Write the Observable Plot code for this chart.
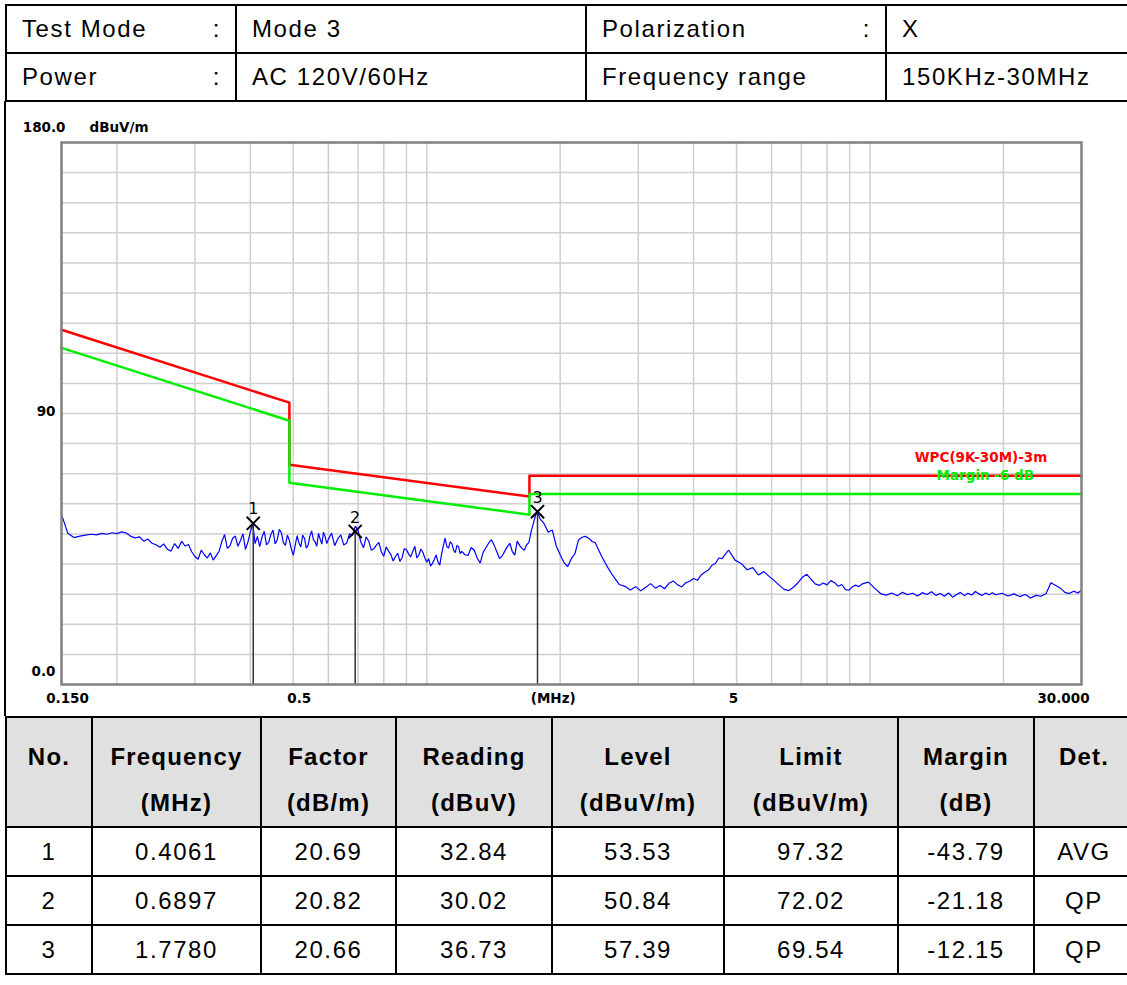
<!DOCTYPE html>
<html><head><meta charset="utf-8">
<script src="https://cdn.jsdelivr.net/npm/d3@7"></script>
<script src="https://cdn.jsdelivr.net/npm/@observablehq/plot@0.6"></script>
<style>
html,body{margin:0;padding:0;background:#fff;width:1127px;height:985px;overflow:hidden;}
#page{position:relative;width:1127px;height:985px;font-family:"Liberation Sans",Arial,sans-serif;color:#000;overflow:hidden;}
table{border-collapse:collapse;table-layout:fixed;position:absolute;left:5px;}
td{border:2px solid #000;padding:0;font-size:24px;letter-spacing:1.6px;white-space:nowrap;overflow:hidden;}
#info{top:4px;}
#info td{height:46px;vertical-align:middle;padding-left:15px;}
#info td .row{display:flex;justify-content:space-between;padding-right:14px;}
#results{top:716px;}
#results td{text-align:center;vertical-align:middle;}
#results tr.head td{background:#e0e0e0;font-weight:bold;letter-spacing:1.2px;height:108px;vertical-align:top;line-height:46px;padding-top:16px;box-sizing:border-box;}
#results tr.data td{height:47px;}
#chartbox{position:absolute;left:0;top:101px;width:1127px;height:615px;}
#chartbox svg{position:absolute;left:0;top:0;}
#leftline{position:absolute;left:4px;top:101px;width:2px;height:615px;background:#000;}
</style></head>
<body><div id="page">
<table id="info"></table>
<div id="chartbox"></div>
<div id="leftline"></div>
<table id="results"></table>
</div>
<script>
// ---- header info ----
const infoLabels = ["Test Mode", "Power"];
const infoValues = ["Mode 3", "AC 120V/60Hz"];
const infoLabels2 = ["Polarization", "Frequency range"];
const infoColons2 = [":", ""];
const infoValues2 = ["X", "150KHz-30MHz"];

// ---- result table ----
const headTop = ["No.", "Frequency", "Factor", "Reading", "Level", "Limit", "Margin", "Det."];
const headBottom = ["", "(MHz)", "(dB/m)", "(dBuV)", "(dBuV/m)", "(dBuV/m)", "(dB)", ""];
const colWidths = [86, 169, 135, 156, 172, 174, 136, 100];
const markerNo = [1, 2, 3];
const markerFreqText = ["0.4061", "0.6897", "1.7780"];
const markerFreq = [0.4061, 0.6897, 1.7780];
const markerFactor = ["20.69", "20.82", "20.66"];
const markerReading = ["32.84", "30.02", "36.73"];
const markerLevel = [53.53, 50.84, 57.39];
const markerLimit = ["97.32", "72.02", "69.54"];
const markerMargin = ["-43.79", "-21.18", "-12.15"];
const markerDet = ["AVG", "QP", "QP"];

// ---- limit lines ----
const limitFreq = [0.15, 0.49, 0.49, 1.705, 1.705, 30];
const limitLevel = [117.8, 93.6, 73.0, 62.4, 69.3, 69.3];
const marginLevel = [111.8, 87.6, 67.0, 56.4, 63.3, 63.3];
const legendText = ["WPC(9K-30M)-3m", "Margin -6 dB"];
const legendFreq = [17.8, 18.2];
const legendLevel = [75.3, 69.4];

// ---- axes ----
const gridFreqs = [0.2,0.3,0.4,0.5,0.6,0.7,0.8,0.9,1,2,3,4,5,6,7,8,9,10,20];
const gridLevels = [10,20,30,40,50,60,70,80,90,100,110,120,130,140,150,160,170];
const yTickVals = [0, 90, 180];
const yTickText = ["0.0", "90", "180.0"];
const xTickVals = [0.15, 0.5, 1.87, 5, 30];
const xTickText = ["0.150", "0.5", "(MHz)", "5", "30.000"];
const yUnit = "dBuV/m";

// ---- measured trace (MHz, dBuV/m) ----
const traceFreq = [
0.150,0.155,0.160,0.165,0.170,0.175,0.180,0.185,0.190,0.195,0.200,0.205,0.210,0.215,0.220,0.225,0.230,0.235,0.240,0.245,0.250,0.255,0.260,0.265,0.270,0.275,0.280,0.285,0.290,0.295,
0.300,0.305,0.310,0.315,0.320,0.325,0.330,0.335,0.340,0.345,0.350,0.355,0.360,0.365,0.370,0.375,0.380,0.385,0.390,0.395,0.400,0.405,0.410,0.415,0.420,0.425,0.430,0.435,0.440,0.445,0.450,0.455,0.460,0.465,0.470,0.475,0.480,0.485,0.490,0.495,0.500,0.505,0.510,0.515,0.520,0.525,0.530,0.535,0.540,0.545,0.550,0.555,0.560,0.565,0.570,0.575,0.580,0.585,0.590,0.595,
0.60,0.61,0.62,0.63,0.64,0.65,0.66,0.67,0.68,0.69,0.70,0.71,0.72,0.73,0.74,0.75,0.76,0.77,0.78,0.79,0.80,0.81,0.82,0.83,0.84,0.85,0.86,0.87,0.88,0.89,0.90,0.91,0.92,0.93,0.94,0.95,0.96,0.97,0.98,0.99,1.00,1.01,1.02,1.03,1.04,1.05,1.06,1.07,1.08,1.09,1.10,1.11,1.12,1.13,1.14,1.15,1.16,1.17,1.18,1.19,
1.20,1.22,1.24,1.26,1.28,1.30,1.32,1.34,1.36,1.38,1.40,1.42,1.44,1.46,1.48,1.50,1.52,1.54,1.56,1.58,1.60,1.62,1.64,1.66,1.68,1.70,1.72,1.76,1.78,1.80,1.84,1.88,1.92,1.96,2.00,2.04,2.08,2.12,2.16,2.20,2.24,2.28,2.32,2.36,
2.40,2.48,2.56,2.64,2.72,2.80,2.88,2.96,3.04,3.12,3.20,3.28,3.36,3.44,3.52,3.60,3.68,3.76,3.84,3.92,4.00,4.08,4.16,4.24,4.32,4.40,4.48,4.56,4.64,4.72,
4.80,4.96,5.12,5.28,5.44,5.60,5.76,5.92,6.08,6.24,6.40,6.56,6.72,6.88,7.04,7.20,7.36,7.52,7.68,7.84,8.00,8.16,8.32,8.48,8.64,8.80,8.96,9.12,9.28,9.44,
9.60,9.92,10.24,10.56,10.88,11.20,11.52,11.84,12.16,12.48,12.80,13.12,13.44,13.76,14.08,14.40,14.72,15.04,15.36,15.68,16.00,16.32,16.64,16.96,17.28,17.60,17.92,18.24,18.56,18.88,
19.20,19.84,20.48,21.12,21.76,22.40,23.04,23.68,24.32,24.96,25.60,26.24,26.88,27.52,28.16,28.80,29.44,30.00];
const traceLevel = [
56.5,50.2,48.8,49.3,49.6,49.9,49.7,50.2,49.9,50.4,50.1,50.7,50.3,49.2,48.7,49.0,47.6,48.3,46.9,46.4,45.6,46.7,44.9,44.3,46.8,45.2,47.6,46.0,46.5,44.1,
42.5,41.6,44.6,43.1,42.0,43.7,41.3,42.8,44.2,47.5,49.8,45.2,46.1,48.6,49.3,45.9,47.8,50.1,44.9,47.3,50.6,53.6,46.8,49.2,45.8,48.9,50.9,46.4,47.2,49.8,51.3,46.7,48.0,51.5,50.4,47.1,46.2,49.6,47.9,45.0,42.9,46.2,49.4,47.0,45.7,49.6,48.5,45.3,46.3,49.2,51.0,48.1,47.4,45.9,50.2,48.3,46.6,50.6,49.1,46.8,
48.2,50.3,46.1,48.4,49.7,46.3,47.0,50.1,49.5,52.6,51.2,47.3,45.4,49.0,47.6,44.6,45.1,46.3,47.2,44.0,42.6,45.7,44.3,43.2,41.0,42.5,43.6,40.9,42.1,45.1,44.8,43.3,42.4,44.2,45.9,42.0,43.0,45.0,43.9,42.1,40.6,41.8,39.3,40.2,41.5,43.0,40.8,39.6,43.2,46.0,48.6,45.8,45.3,47.4,46.7,44.6,43.8,46.2,45.7,43.5,
44.2,43.1,42.9,45.5,44.6,42.0,40.3,43.8,45.4,47.0,48.1,46.2,44.0,41.8,42.7,44.3,45.8,46.9,44.1,43.0,47.6,46.2,45.2,44.6,46.4,47.1,50.8,56.2,57.2,55.1,53.4,50.6,51.3,46.0,43.1,40.5,39.2,41.8,43.5,48.0,48.9,49.2,48.6,47.5,
47.1,42.6,38.9,35.8,33.2,32.6,31.4,32.5,31.1,32.3,33.5,32.0,32.9,31.8,33.6,34.4,33.1,32.4,33.8,34.3,35.2,34.6,36.4,37.3,38.0,39.6,40.2,42.0,41.8,43.4,
44.6,41.3,40.2,38.1,38.8,36.4,37.5,35.9,34.5,33.0,31.6,31.2,32.3,33.8,35.6,36.6,35.0,33.4,32.9,33.7,33.1,34.5,33.8,32.6,33.2,31.5,31.3,32.4,33.0,32.5,
33.4,34.0,32.0,30.2,29.7,30.4,29.5,30.6,29.8,30.3,29.4,30.5,29.9,30.8,29.6,30.2,29.3,30.4,29.0,29.9,30.6,29.5,30.3,29.7,30.9,30.1,29.6,30.4,29.8,30.5,
29.8,30.3,29.4,30.1,29.2,29.9,28.7,29.6,29.3,30.2,33.8,32.9,32.0,30.6,30.2,31.0,30.4,31.3];

// ---- build tables ----
const info = document.getElementById("info");
const iw = [230, 350, 300, 260];
info.style.width = iw.reduce((a, b) => a + b, 0) + "px";
let html = "<colgroup>" + iw.map(w => `<col style="width:${w}px">`).join("") + "</colgroup>";
for (let i = 0; i < infoLabels.length; i++) {
  html += `<tr><td><div class="row"><span>${infoLabels[i]}</span><span>:</span></div></td>` +
          `<td>${infoValues[i]}</td>` +
          `<td><div class="row"><span>${infoLabels2[i]}</span><span>${infoColons2[i]}</span></div></td>` +
          `<td>${infoValues2[i]}</td></tr>`;
}
info.innerHTML = html;

const res = document.getElementById("results");
res.style.width = colWidths.reduce((a, b) => a + b, 0) + "px";
let rh = "<colgroup>" + colWidths.map(w => `<col style="width:${w}px">`).join("") + "</colgroup>";
rh += "<tr class='head'>" + headTop.map((h, i) => `<td>${h}${headBottom[i] ? "<br>" + headBottom[i] : ""}</td>`).join("") + "</tr>";
for (let i = 0; i < markerNo.length; i++) {
  const cells = [markerNo[i], markerFreqText[i], markerFactor[i], markerReading[i], markerLevel[i].toFixed(2), markerLimit[i], markerMargin[i], markerDet[i]];
  rh += "<tr class='data'>" + cells.map(c => `<td>${c}</td>`).join("") + "</tr>";
}
res.innerHTML = rh;

// ---- chart ----
const trace = traceFreq.map((f, i) => ({f, level: traceLevel[i]}));
const limit = limitFreq.map((f, i) => ({f, level: limitLevel[i]}));
const margin = limitFreq.map((f, i) => ({f, level: marginLevel[i]}));
const markers = markerNo.map((no, i) => ({no: String(no), f: markerFreq[i], level: markerLevel[i]}));
const legend = legendText.map((t, i) => ({t, f: legendFreq[i], level: legendLevel[i]}));
const fnt = "DejaVu Sans";
const ylab = v => yTickText[yTickVals.indexOf(v)];
const xlab = v => xTickText[xTickVals.indexOf(v)];

const chart = Plot.plot({
  width: 1127, height: 615,
  marginLeft: 61, marginRight: 46, marginTop: 41, marginBottom: 32,
  x: {type: "log", domain: [0.15, 30]},
  y: {domain: [0, 180]},
  style: {fontFamily: fnt, fontWeight: "bold", fontSize: "13.5px", background: "transparent", color: "#000", overflow: "visible"},
  marks: [
    Plot.gridX(gridFreqs, {stroke: "#cfcfcf", strokeOpacity: 1, strokeWidth: 1.5}),
    Plot.gridY(gridLevels, {stroke: "#cfcfcf", strokeOpacity: 1, strokeWidth: 1.5}),
    Plot.line(limit, {x: "f", y: "level", stroke: "#ff0000", strokeWidth: 2.5}),
    Plot.line(margin, {x: "f", y: "level", stroke: "#00ee00", strokeWidth: 2.5}),
    Plot.line(trace, {x: "f", y: "level", stroke: "#0000ff", strokeWidth: 1.2, strokeLinejoin: "miter"}),
    Plot.ruleX(markers, {x: "f", y1: "level", y2: 0, stroke: "#333", strokeWidth: 1.5}),
    Plot.dot(markers, {x: "f", y: "level", symbol: "times", r: 6, stroke: "#000", strokeWidth: 2}),
    Plot.text(markers, {x: "f", y: "level", text: "no", dy: -14, fontSize: 16, fontWeight: "normal", fontFamily: fnt, fill: "#000"}),
    Plot.text([legend[0]], {x: "f", y: "level", text: "t", fill: "#ff0000", fontSize: 13.5, fontWeight: "bold", fontFamily: fnt}),
    Plot.text([legend[1]], {x: "f", y: "level", text: "t", fill: "#00ee00", fontSize: 13.5, fontWeight: "bold", fontFamily: fnt}),
    Plot.frame({stroke: "#808080", strokeWidth: 2.5}),
    Plot.axisY([yTickVals[0]], {tickSize: 0, tickPadding: 6, tickFormat: ylab, dy: -13, label: null}),
    Plot.axisY([yTickVals[1]], {tickSize: 0, tickPadding: 6, tickFormat: ylab, dy: -1.5, label: null}),
    Plot.axisY([yTickVals[2]], {tickSize: 0, tickPadding: 6, tickFormat: ylab, dy: -15, dx: 10, label: null}),
    Plot.text([yUnit], {frameAnchor: "top-left", text: d => d, dx: 28, dy: -15, lineAnchor: "middle", textAnchor: "start"}),
    Plot.axisX(xTickVals.slice(0, 3), {tickSize: 0, tickPadding: 9, tickFormat: xlab, dx: 6, label: null}),
    Plot.axisX([xTickVals[3]], {tickSize: 0, tickPadding: 9, tickFormat: xlab, dx: -3, label: null}),
    Plot.axisX([xTickVals[4]], {tickSize: 0, tickPadding: 9, tickFormat: xlab, dx: -18, label: null})
  ]
});
document.getElementById("chartbox").appendChild(chart);
</script>
</body></html>
